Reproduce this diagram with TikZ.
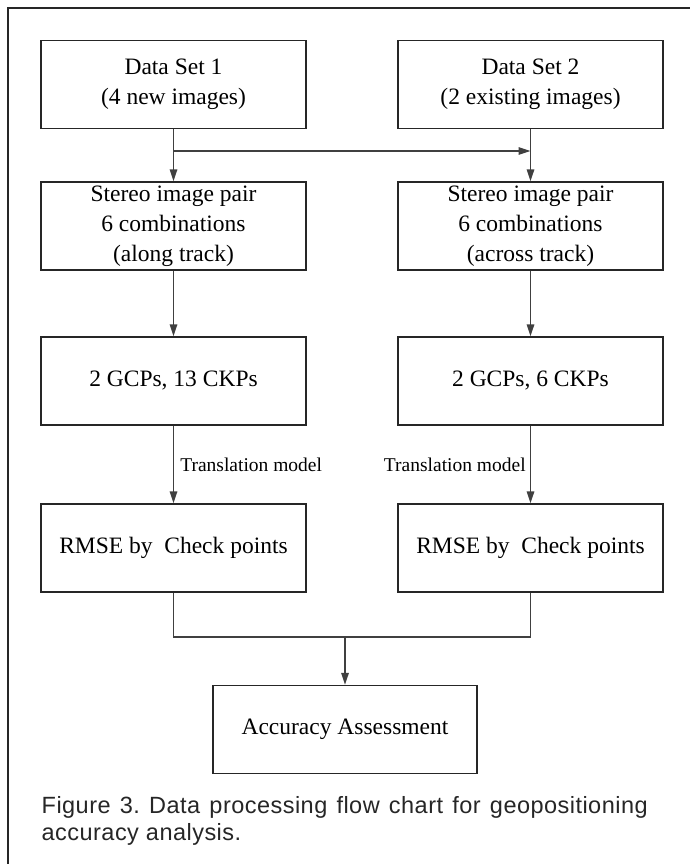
\documentclass[tikz,border=0pt]{standalone}
\usepackage{fontspec}
\setmainfont{Liberation Serif}
\newfontfamily\capfont{Liberation Sans}[LetterSpace=2]
\usetikzlibrary{arrows.meta}
\frenchspacing
\begin{document}
\begin{tikzpicture}[x=1pt,y=-1pt,
  box/.style={draw=black!85, line width=1.4pt, minimum width=265pt, minimum height=88pt,
    inner sep=0pt, align=center, font=\fontsize{23.5}{30}\selectfont},
  conn/.style={draw=black!75, line width=1.6pt},
  arr/.style={conn, -{Triangle[length=12pt,width=7.5pt]}},
  lbl/.style={font=\fontsize{19.5}{22}\selectfont, inner sep=0pt},
  captext/.style={font=\capfont\fontsize{23.5}{27}\selectfont, inner sep=0pt, text=black!85}]
\useasboundingbox (0,0) rectangle (690,864);
\draw[line width=1.4pt, black!85] (690,8) -- (8,8) -- (8,864);

\node[box] (d1) at (173.5,84.7) {Data Set 1\\(4 new images)};
\node[box] (d2) at (530.5,84.7) {Data Set 2\\(2 existing images)};
\node[box] (s1) at (173.5,226) {Stereo image pair\\6 combinations\\(along track)};
\node[box] (s2) at (530.5,226) {Stereo image pair\\6 combinations\\(across track)};
\node[box] (g1) at (173.5,381) {2 GCPs, 13 CKPs};
\node[box] (g2) at (530.5,381) {2 GCPs, 6 CKPs};
\node[box] (r1) at (173.5,548) {RMSE by\ \ Check points};
\node[box] (r2) at (530.5,548) {RMSE by\ \ Check points};
\node[box, minimum width=264pt] (acc) at (345,729.5) {Accuracy Assessment};

\coordinate (j1) at (173.5,151);
\coordinate (j2) at (530.5,151);
\coordinate (m) at (345,636.7);

\draw[arr] (d1) -- (s1);
\draw[arr] (d2) -- (s2);
\draw[arr] (j1) -- (j2);
\draw[arr] (s1) -- (g1);
\draw[arr] (s2) -- (g2);
\draw[arr] (g1) -- node[lbl, anchor=west, xshift=6pt] (t1) {Translation model} (r1);
\draw[arr] (g2) -- node[lbl, anchor=east, xshift=-4pt] (t2) {Translation model} (r2);
\draw[conn] (r1.south) |- (m) -| (r2.south);
\draw[arr] (m) -- (acc);

\node[captext, anchor=base west] (c1) at (41.5,813.3) {\makebox[606pt][s]{Figure 3. Data processing flow chart for geopositioning}};
\node[captext, anchor=base west] (c2) at (41.5,840.7) {accuracy analysis.};
\end{tikzpicture}
\end{document}
